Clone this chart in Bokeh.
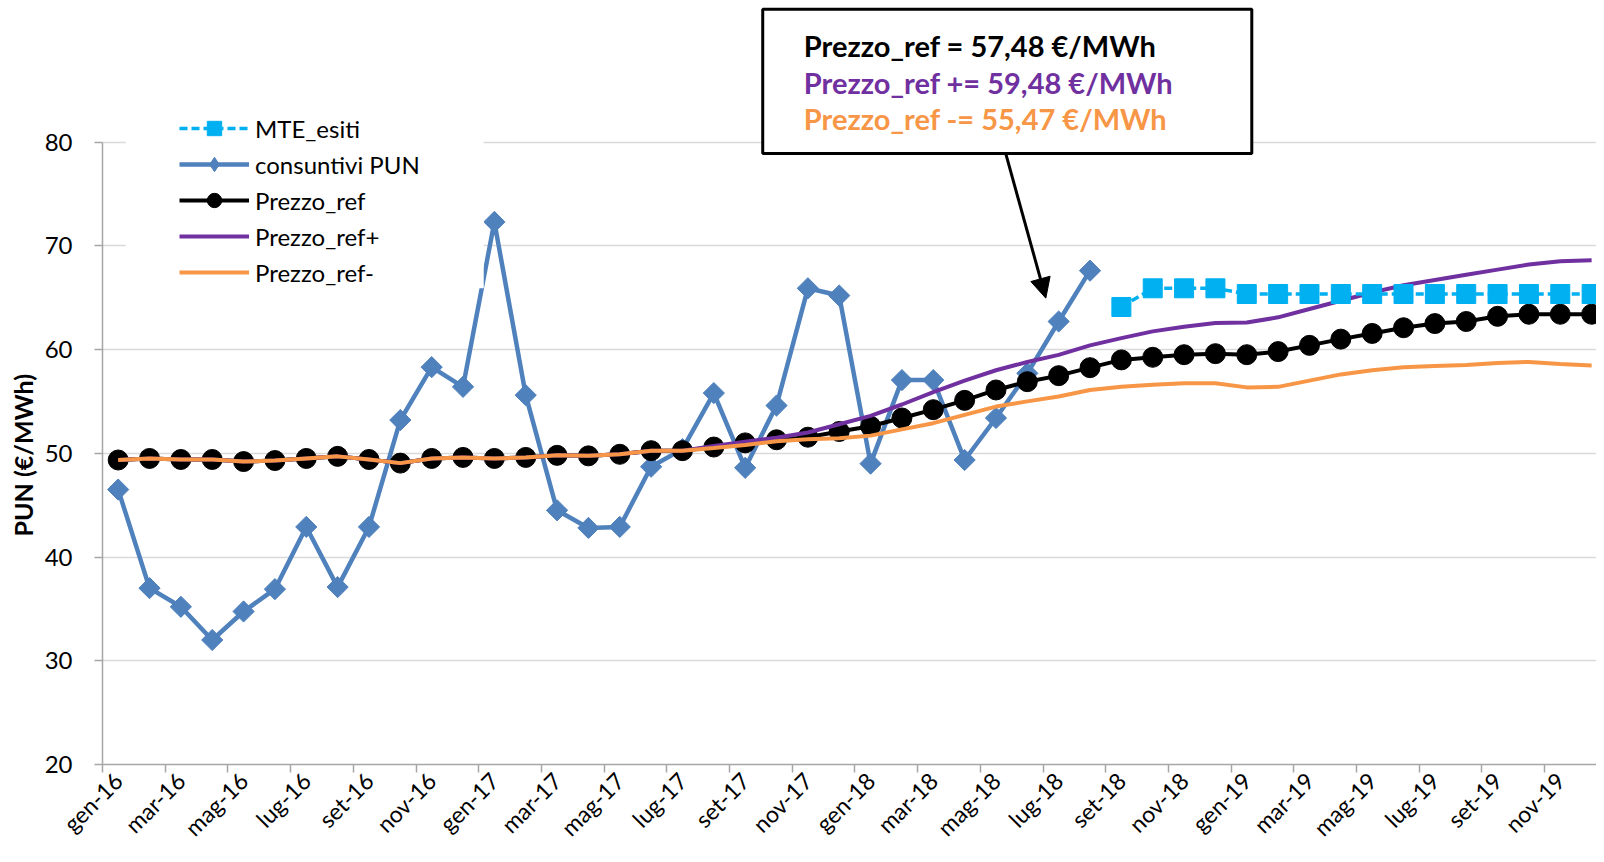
import math
from bokeh.plotting import figure
from bokeh.models import (Range1d, FixedTicker, Legend, LegendItem, Label,
                          BoxAnnotation, Arrow, NormalHead, Title)
from bokeh.embed import file_html
from bokeh.resources import INLINE

# ---------------- data ----------------
month_names = ["gen", "feb", "mar", "apr", "mag", "giu", "lug", "ago", "set", "ott", "nov", "dic"]
years = ["16", "17", "18", "19"]
months = [f"{m}-{y}" for y in years for m in month_names]
x_all = list(range(len(months)))

prezzo_ref = [49.35, 49.5, 49.4, 49.4, 49.2, 49.3, 49.5, 49.7, 49.4, 49.05, 49.5, 49.6,
              49.5, 49.6, 49.8, 49.75, 49.9, 50.25, 50.25, 50.6, 51.0, 51.3, 51.55, 52.1,
              52.6, 53.4, 54.2, 55.1, 56.1, 56.9, 57.48, 58.25, 59.0, 59.25, 59.5, 59.6,
              59.5, 59.8, 60.4, 61.0, 61.55, 62.1, 62.5, 62.7, 63.2, 63.4, 63.4, 63.4]

prezzo_ref_plus = [49.35, 49.5, 49.4, 49.4, 49.2, 49.3, 49.5, 49.7, 49.4, 49.05, 49.5, 49.6,
                   49.5, 49.6, 49.8, 49.75, 49.9, 50.25, 50.25, 50.7, 51.1, 51.5, 52.0, 52.8,
                   53.6, 54.7, 55.9, 57.0, 58.0, 58.8, 59.48, 60.4, 61.1, 61.75, 62.2, 62.55,
                   62.6, 63.1, 63.9, 64.7, 65.5, 66.2, 66.7, 67.2, 67.7, 68.2, 68.5, 68.6]

prezzo_ref_minus = [49.35, 49.5, 49.4, 49.4, 49.2, 49.3, 49.5, 49.7, 49.4, 49.05, 49.5, 49.6,
                    49.5, 49.6, 49.8, 49.75, 49.9, 50.25, 50.25, 50.5, 50.8, 51.15, 51.35, 51.45,
                    51.7, 52.3, 52.9, 53.7, 54.5, 55.0, 55.47, 56.1, 56.4, 56.6, 56.75, 56.75,
                    56.35, 56.4, 57.0, 57.6, 58.0, 58.3, 58.4, 58.5, 58.7, 58.8, 58.6, 58.45]

pun_months = months[:32]
pun_vals = [46.5, 37.0, 35.2, 32.0, 34.75, 36.9, 42.9, 37.1, 42.9, 53.2, 58.3, 56.4,
            72.3, 55.6, 44.5, 42.8, 42.9, 48.7, 50.4, 55.8, 48.6, 54.6, 65.9, 65.2,
            49.0, 57.05, 57.05, 49.35, 53.4, 57.7, 62.7, 67.6]

mte_months = months[32:]
mte_vals = [64.1, 65.9, 65.9, 65.9, 65.35, 65.35, 65.35, 65.35,
            65.35, 65.35, 65.35, 65.35, 65.35, 65.35, 65.35, 65.35]

y_ticks = [20, 30, 40, 50, 60, 70, 80]
x_label_idx = list(range(0, 48, 2))

pun_x = [months.index(m) for m in pun_months]
mte_x = [months.index(m) for m in mte_months]

# ---------------- figure ----------------
FONT = "Lato"
W, H = 1596, 854
BORDER_L, BORDER_B = 102, 89
frame_h = H - BORDER_B
px_per_unit = 623.3 / (y_ticks[-1] - y_ticks[0])      # 20..80 spans ~623 px
y_top = y_ticks[0] + frame_h / px_per_unit             # room above 80 for legend/box
px_per_month = 31.35
x_end = -0.5 + (W - BORDER_L) / px_per_month

p = figure(width=W, height=H, output_backend="svg", toolbar_location=None,
           x_range=Range1d(-0.5, x_end), y_range=Range1d(y_ticks[0], y_top),
           min_border_left=BORDER_L, min_border_right=0, min_border_top=0,
           min_border_bottom=BORDER_B)
p.outline_line_color = None
p.background_fill_color = "white"
p.border_fill_color = "white"

p.xgrid.visible = False
p.ygrid.grid_line_color = "#D9D9D9"
p.ygrid.grid_line_width = 1.5

ax = p.xaxis[0]
ax.ticker = FixedTicker(ticks=x_label_idx, minor_ticks=[i - 0.5 for i in x_label_idx])
ax.major_label_overrides = {i: months[i] for i in x_label_idx}
ax.major_label_orientation = math.pi / 4
ax.major_tick_out = 0
ax.major_tick_in = 0
ax.minor_tick_out = 8
ax.minor_tick_in = 0
ax.minor_tick_line_color = "#A6A6A6"
ax.minor_tick_line_width = 1.5
ax.axis_line_color = "#A6A6A6"
ax.axis_line_width = 1.5
ax.major_label_text_font = FONT
ax.major_label_text_font_size = "23px"
ax.major_label_text_color = "#000000"
ax.major_label_standoff = 4

ay = p.yaxis[0]
ay.bounds = (y_ticks[0], y_ticks[-1])
ay.ticker = FixedTicker(ticks=y_ticks, minor_ticks=[])
ay.major_tick_out = 8
ay.major_tick_in = 0
ay.major_tick_line_color = "#A6A6A6"
ay.major_tick_line_width = 1.5
ay.axis_line_color = "#A6A6A6"
ay.axis_line_width = 1.5
ay.major_label_text_font = FONT
ay.major_label_text_font_size = "24px"
ay.major_label_text_color = "#000000"
ay.major_label_standoff = 22

p.add_layout(Title(text="PUN (€/MWh)", align="left", offset=228,
                   text_font=FONT, text_font_style="bold", text_font_size="25px",
                   text_color="#000000", standoff=8), "left")

# ---------------- series ----------------
BLUE = "#4F81BD"
CYAN = "#00B0F0"
PURPLE = "#7030A0"
ORANGE = "#F79646"

pun_line = p.line(pun_x, pun_vals, line_color=BLUE, line_width=4.5)
pun_mark = p.scatter(pun_x, pun_vals, marker="square", angle=math.pi / 4, size=15,
                     fill_color=BLUE, line_color=BLUE)
# same points as diamonds, hidden in the plot, used for the legend swatch
pun_key = p.scatter(pun_x, pun_vals, marker="diamond", size=15,
                    fill_color=BLUE, line_color=BLUE, visible=False)

ref_line = p.line(x_all, prezzo_ref, line_color="black", line_width=4)
ref_mark = p.scatter(x_all, prezzo_ref, marker="circle", size=20,
                     fill_color="black", line_color="black")

plus_line = p.line(x_all, prezzo_ref_plus, line_color=PURPLE, line_width=4)
minus_line = p.line(x_all, prezzo_ref_minus, line_color=ORANGE, line_width=4)

mte_line = p.line(mte_x, mte_vals, line_color=CYAN, line_width=3.5, line_dash="8 4")
mte_mark = p.scatter(mte_x, mte_vals, marker="square", size=19,
                     fill_color=CYAN, line_color=CYAN)

# white area behind the legend (hides gridlines and lines, as in the original)
p.add_layout(BoxAnnotation(left=0.243, right=11.66, bottom=65.9, top=83.0,
                           fill_color="white", fill_alpha=1.0, line_color=None))

legend = Legend(items=[
    LegendItem(label="MTE_esiti", renderers=[mte_line, mte_mark]),
    LegendItem(label="consuntivi PUN", renderers=[pun_line, pun_key]),
    LegendItem(label="Prezzo_ref", renderers=[ref_line, ref_mark]),
    LegendItem(label="Prezzo_ref+", renderers=[plus_line]),
    LegendItem(label="Prezzo_ref-", renderers=[minus_line]),
], location=(77, 474))
legend.label_text_font = FONT
legend.label_text_font_size = "24px"
legend.label_text_color = "#000000"
legend.glyph_width = 70
legend.glyph_height = 36
legend.label_height = 36
legend.spacing = 0
legend.padding = 2
legend.margin = 0
legend.label_standoff = 6
legend.background_fill_alpha = 0
legend.border_line_color = None
p.add_layout(legend)

# ---------------- annotation box ----------------
p.add_layout(BoxAnnotation(left=20.56, right=36.16, bottom=78.9, top=92.8,
                           fill_color="white", fill_alpha=1.0,
                           line_color="black", line_alpha=1.0, line_width=3))
for txt, yy, col in [("Prezzo_ref = 57,48 €/MWh", 89.3, "#000000"),
                     ("Prezzo_ref += 59,48 €/MWh", 85.74, PURPLE),
                     ("Prezzo_ref -= 55,47 €/MWh", 82.27, ORANGE)]:
    p.add_layout(Label(x=21.87, y=yy, text=txt, text_font=FONT, text_font_style="bold",
                       text_font_size="29px", text_color=col,
                       text_align="left", text_baseline="middle"))

p.add_layout(Arrow(end=NormalHead(size=20, fill_color="black", line_color="black"),
                   x_start=28.31, y_start=78.9, x_end=29.59, y_end=64.95,
                   line_color="black", line_width=3))

open("out.html", "w").write(file_html(p, INLINE))
